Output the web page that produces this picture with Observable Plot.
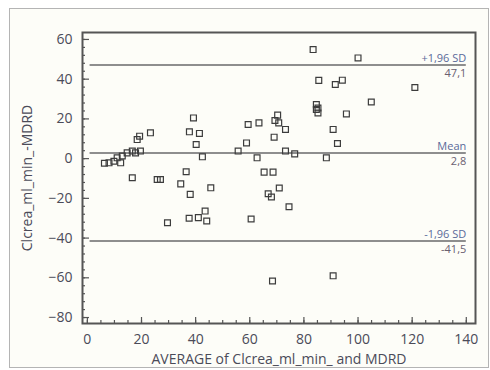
<!DOCTYPE html>
<html>
<head>
<meta charset="utf-8">
<script src="https://cdn.jsdelivr.net/npm/d3@7"></script>
<script src="https://cdn.jsdelivr.net/npm/@observablehq/plot@0.6"></script>
<style>
  html, body { margin: 0; padding: 0; background: #ffffff; }
  body { width: 490px; height: 370px; position: relative; overflow: hidden; font-family: "Open Sans", sans-serif; }
  #frame { position: absolute; left: 9px; top: 8px; width: 480px; height: 360px; border: 1.5px solid #b4b4b4; background: #fdfdf8; box-sizing: border-box; }
  #chart { position: absolute; left: 0; top: 0; }
</style>
</head>
<body>
<div id="frame"></div>
<div id="chart"></div>
<script>
// Average of the two methods (x) and difference (y)
const avgValues = [6.3, 8, 9.8, 11, 12.3, 12.9, 14.7, 16.6, 17.8, 19.6, 18.4, 19.3, 23.3, 16.6, 25.8, 27,
  29.6, 34.5, 36.5, 38, 37.6, 41, 43.5, 44.1, 45.6, 39.2, 37.7, 41.4, 40.2, 42.5,
  55.7, 58.8, 59.4, 63.4, 62.7, 60.5, 65.3, 68.6, 66.8, 68, 70.9, 74.5, 68.4,
  69, 69.3, 70.3, 70.7, 73.2, 73.2, 76.6, 83.4, 84.6, 85.2, 84.6, 85.2, 85.5,
  88.3, 90.8, 92.4, 91.6, 94.2, 95.7, 90.8, 100, 104.9, 121];
const diffValues = [-2.3, -2.1, -1.3, 0.4, -2.1, 1.3, 2.9, 3.8, 2.9, 3.8, 9.6, 11.3, 13, -9.6, -10.5, -10.5,
  -32.3, -12.7, -6.6, -18, -30, -29.7, -26.4, -31.4, -14.7, 20.5, 13.5, 12.7, 7.1, 0.9,
  3.8, 7.9, 17.2, 18, 0.4, -30.4, -6.8, -6.8, -17.7, -19.3, -14.8, -24.2, -61.6,
  10.8, 19.2, 21.9, 18, 14.7, 3.8, 2.4, 54.9, 27.2, 25.5, 24.7, 23, 39.4,
  0.4, 14.7, 7.6, 37.3, 39.5, 22.5, -59, 50.7, 28.5, 35.8];

// Reference lines: +1.96 SD, mean, -1.96 SD
const refNames = ["+1,96 SD", "Mean", "-1,96 SD"];
const refValues = [47.1, 2.8, -41.5];
const refTexts = ["47,1", "2,8", "-41,5"];

const xMajorTicks = [0, 20, 40, 60, 80, 100, 120, 140];
const xMinorTicks = d3.range(0, 141, 5);
const yMajorTicks = [-80, -60, -40, -20, 0, 20, 40, 60];
const yMinorTicks = d3.range(-80, 61, 4);

const xTitle = "AVERAGE of Clcrea_ml_min_ and MDRD";
const yTitle = "Clcrea_ml_min_-MDRD";

const points = avgValues.map((x, i) => ({x, y: diffValues[i]}));
const refs = refNames.map((n, i) => ({name: n, value: refValues[i], text: refTexts[i]}));

const W = 490, H = 370, mL = 82, mR = 15, mT = 32, mB = 47;
const frameW = W - mL - mR, frameH = H - mT - mB;

const textColor = "#4b4b58";
const tickColor = "#555";
const lineStart = 1, lineEnd = 140;

const plot = Plot.plot({
  width: W,
  height: H,
  marginLeft: mL,
  marginRight: mR,
  marginTop: mT,
  marginBottom: mB,
  style: {background: "transparent", fontFamily: "'Open Sans', sans-serif", color: textColor},
  x: {domain: [-1.8, 143.4]},
  y: {domain: [-83, 63.5]},
  marks: [
    Plot.ruleY(refs, {y: "value", x1: lineStart, x2: lineEnd, stroke: "#8e8e8e", strokeWidth: 2}),
    Plot.text(refs, {x: lineEnd, y: "value", text: "name", textAnchor: "end", dy: -7, fontSize: 11, fill: "#5a6a9a"}),
    Plot.text(refs, {x: lineEnd, y: "value", text: "text", textAnchor: "end", dy: 8, fontSize: 11, fill: "#6a6070"}),
    Plot.dot(points, {x: "x", y: "y", symbol: "square", r: 3.3, stroke: "#3c3c3c", strokeWidth: 1.2, fill: "none"}),
    // inward tick marks
    Plot.tickY(yMinorTicks, {y: d => d, insetRight: frameW - 3, stroke: tickColor, strokeWidth: 1.2}),
    Plot.tickY(yMajorTicks, {y: d => d, insetRight: frameW - 7, stroke: tickColor, strokeWidth: 1.2}),
    Plot.tickX(xMinorTicks, {x: d => d, insetTop: frameH - 3, stroke: tickColor, strokeWidth: 1.2}),
    Plot.tickX(xMajorTicks, {x: d => d, insetTop: frameH - 6, stroke: tickColor, strokeWidth: 1.2}),
    // tick labels and titles
    Plot.axisY({ticks: yMajorTicks, tickSize: 0, tickPadding: 10, fontSize: 14, fill: textColor,
      label: yTitle, labelAnchor: "center", labelArrow: false, labelOffset: 60}),
    Plot.axisX({ticks: xMajorTicks, tickSize: 0, tickPadding: 11, fontSize: 14, fill: textColor,
      label: xTitle, labelAnchor: "center", labelArrow: false, labelOffset: 40}),
    Plot.frame({stroke: "#555", strokeWidth: 2})
  ]
});
document.getElementById("chart").appendChild(plot);
</script>
</body>
</html>
